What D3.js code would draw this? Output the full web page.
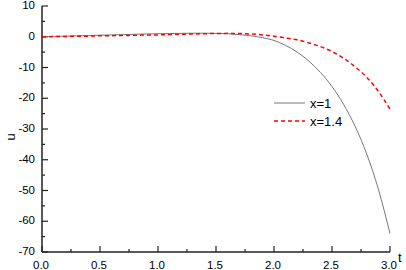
<!DOCTYPE html>
<html>
<head>
<meta charset="utf-8">
<script src="https://cdn.jsdelivr.net/npm/d3@7"></script>
<style>
  body { margin: 0; background: #fff; }
  svg text { font-family: "Liberation Sans", Arial, sans-serif; }
</style>
</head>
<body>
<div id="chart"></div>
<script>
// t values and the two series
const tValues = [0, 0.1, 0.2, 0.3, 0.4, 0.5, 0.6, 0.7, 0.8, 0.9, 1.0, 1.1, 1.2, 1.3, 1.4, 1.5,
                 1.6, 1.7, 1.8, 1.9, 2.0, 2.1, 2.2, 2.3, 2.4, 2.5, 2.6, 2.7, 2.8, 2.9, 3.0];
const uX1 = [0, 0.1, 0.2, 0.3, 0.4, 0.5, 0.6, 0.7, 0.8, 0.9, 1.0, 1.05, 1.1, 1.15, 1.15, 1.1,
             1.0, 0.7, 0.3, -0.3, -1.2, -2.8, -5.0, -7.9, -11.6, -16.2, -22.0, -29.2, -38.2, -49.6, -64];
const uX14 = [0, 0.05, 0.1, 0.15, 0.2, 0.3, 0.35, 0.4, 0.5, 0.55, 0.6, 0.7, 0.8, 0.9, 1.0, 1.05,
              1.1, 1.05, 0.9, 0.6, 0.2, -0.4, -1.0, -2.0, -3.2, -4.8, -7.0, -9.8, -13.2, -17.8, -23.5];
const seriesNames = ["x=1", "x=1.4"];
const xTicks = [0, 0.5, 1.0, 1.5, 2.0, 2.5, 3.0];
const yTicks = [10, 0, -10, -20, -30, -40, -50, -60, -70];

const width = 406, height = 270;
const margin = { left: 42, right: 16, top: 6, bottom: 18 };

const svg = d3.select("#chart").append("svg")
    .attr("width", width)
    .attr("height", height);

const x = d3.scaleLinear().domain([0, 3]).range([margin.left, width - margin.right]);
const y = d3.scaleLinear().domain([-70, 10]).range([height - margin.bottom, margin.top]);

// minor ticks halfway between the labelled ones
const xMinor = d3.range(0.25, 3, 0.5);
const yMinor = d3.range(-65, 10, 10);

const axisColor = "#222";

// bottom axis, ticks point inward
const gx = svg.append("g").attr("transform", `translate(0,${y(-70)})`);
gx.append("line").attr("x1", x(0)).attr("x2", x(3)).attr("stroke", axisColor).attr("stroke-width", 1.5);
gx.selectAll(".major").data(xTicks).join("line")
    .attr("x1", d => x(d)).attr("x2", d => x(d)).attr("y1", 0).attr("y2", -6)
    .attr("stroke", axisColor).attr("stroke-width", 1.2);
gx.selectAll(".minor").data(xMinor).join("line")
    .attr("x1", d => x(d)).attr("x2", d => x(d)).attr("y1", 0).attr("y2", -3)
    .attr("stroke", axisColor).attr("stroke-width", 1.2);
gx.selectAll("text").data(xTicks).join("text")
    .attr("x", d => x(d) - 1).attr("y", 16.5)
    .attr("text-anchor", "middle")
    .attr("font-size", 11.5)
    .attr("fill", "#000")
    .text(d => d3.format(".1f")(d));

// left axis
const gy = svg.append("g").attr("transform", `translate(${x(0)},0)`);
gy.append("line").attr("y1", y(-70)).attr("y2", y(10)).attr("stroke", axisColor).attr("stroke-width", 1.5);
gy.selectAll(".major").data(yTicks).join("line")
    .attr("y1", d => y(d)).attr("y2", d => y(d)).attr("x1", 0).attr("x2", 6)
    .attr("stroke", axisColor).attr("stroke-width", 1.2);
gy.selectAll(".minor").data(yMinor).join("line")
    .attr("y1", d => y(d)).attr("y2", d => y(d)).attr("x1", 0).attr("x2", 3)
    .attr("stroke", axisColor).attr("stroke-width", 1.2);
gy.selectAll("text").data(yTicks).join("text")
    .attr("x", -7).attr("y", d => y(d) + 3)
    .attr("text-anchor", "end")
    .attr("font-size", 11.5)
    .attr("fill", "#000")
    .text(d => d);

// axis titles
svg.append("text")
    .attr("transform", "translate(15,137) rotate(-90)")
    .attr("text-anchor", "middle")
    .attr("font-size", 13)
    .text("u");
svg.append("text")
    .attr("x", 398).attr("y", 262)
    .attr("font-size", 13)
    .text("t");

// curves
const line = d3.line().x(d => x(d[0])).y(d => y(d[1])).curve(d3.curveMonotoneX);

svg.append("path")
    .datum(tValues.map((t, i) => [t, uX1[i]]))
    .attr("d", line)
    .attr("fill", "none")
    .attr("stroke", "#777")
    .attr("stroke-width", 1);

svg.append("path")
    .datum(tValues.map((t, i) => [t, uX14[i]]))
    .attr("d", line)
    .attr("fill", "none")
    .attr("stroke", "#ff0000")
    .attr("stroke-width", 1.5)
    .attr("stroke-dasharray", "4,3");

// legend
const legend = svg.append("g").attr("transform", "translate(274,103)");
legend.append("line").attr("x1", 0).attr("x2", 31).attr("y1", 0).attr("y2", 0)
    .attr("stroke", "#777").attr("stroke-width", 1);
legend.append("line").attr("x1", 0).attr("x2", 31).attr("y1", 18).attr("y2", 18)
    .attr("stroke", "#ff0000").attr("stroke-width", 1.5).attr("stroke-dasharray", "4,3");
legend.selectAll("text").data(seriesNames).join("text")
    .attr("x", 36).attr("y", (d, i) => i * 18 + 5)
    .attr("font-size", 13)
    .text(d => d);
</script>
</body>
</html>
